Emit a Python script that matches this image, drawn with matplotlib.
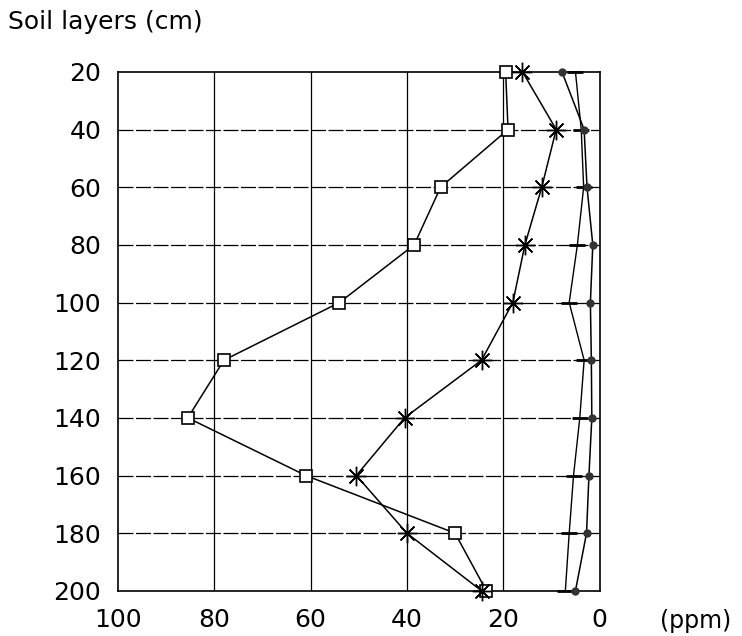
import numpy as np
import matplotlib.pyplot as plt

# soil depth (cm) and concentrations (ppm)
depth = [20, 40, 60, 80, 100, 120, 140, 160, 180, 200]
square_ppm = [19.5, 19, 33, 38.5, 54, 78, 85.5, 61, 30, 23.5]
star_ppm = [16, 9, 12, 15.5, 18, 24.5, 40.5, 50.5, 40, 24.5]
dot_ppm = [7.8, 3.2, 2.6, 1.4, 1.9, 1.7, 1.6, 2.2, 2.7, 5]
dash_ppm = [5, 3.8, 3.3, 4.6, 6.3, 3.2, 4.1, 5.4, 6.3, 7.1]

x_ticks = [100, 80, 60, 40, 20, 0]
y_ticks = [20, 40, 60, 80, 100, 120, 140, 160, 180, 200]

fig = plt.figure(figsize=(7.42, 6.36), dpi=100)
ax = fig.add_axes([0.159, 0.071, 0.649, 0.816])

# grid
for v in [80, 60, 40, 20]:
    ax.axvline(v, color='black', lw=0.9, zorder=1)
for d in y_ticks[1:-1]:
    ax.axhline(d, color='black', lw=0.9, dashes=(12, 2), zorder=1)

ax.plot(square_ppm, depth, color='black', lw=1.1, marker='s', ms=9,
        mfc='white', mec='black', mew=1.2, zorder=3, clip_on=False)
ax.plot(star_ppm, depth, color='black', lw=1.1, marker=(8, 2, 0), ms=14,
        mew=1.0, zorder=3, clip_on=False)
ax.plot(dot_ppm, depth, color='black', lw=1.1, marker='o', ms=5,
        mfc='#333333', mec='#333333', zorder=3, clip_on=False)
ax.plot(dash_ppm, depth, color='black', lw=1.0, marker='_', ms=12,
        mew=2, zorder=2, clip_on=False)

ax.set_xlim(100, 0)
ax.set_ylim(200, 20)
ax.set_xticks(x_ticks)
ax.set_yticks(y_ticks)
ax.tick_params(length=0, labelsize=18, pad=12)
ax.tick_params(axis='x', pad=12)
for s in ax.spines.values():
    s.set_linewidth(1.2)

fig.text(0.011, 0.966, 'Soil layers (cm)', fontsize=18, ha='left', va='center')
fig.text(0.985, 0.024, '(ppm)', fontsize=17, ha='right', va='center')

fig.savefig('out.png', dpi=100)
